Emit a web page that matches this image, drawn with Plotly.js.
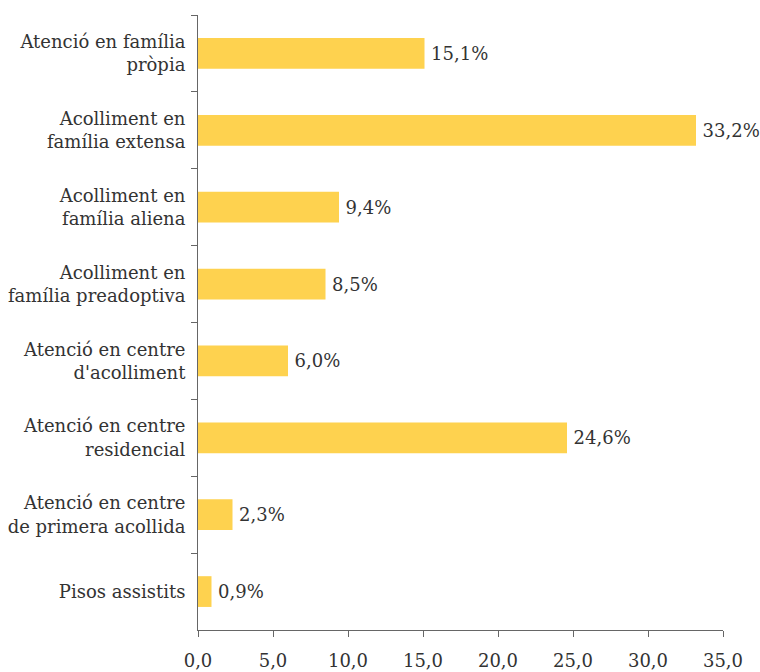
<!DOCTYPE html>
<html>
<head>
<meta charset="utf-8">
<script src="https://cdn.plot.ly/plotly-3.0.1.min.js"></script>
<style>body{margin:0;padding:0;background:#fff;}#chart{width:760px;height:672px;}</style>
</head>
<body>
<div id="chart"></div>
<script>
var categories = [
  "Atenció en família<br>pròpia",
  "Acolliment en<br>família extensa",
  "Acolliment en<br>família aliena",
  "Acolliment en<br>família preadoptiva",
  "Atenció en centre<br>d'acolliment",
  "Atenció en centre<br>residencial",
  "Atenció en centre<br>de primera acollida",
  "Pisos assistits"
];
var values = [15.1, 33.2, 9.4, 8.5, 6.0, 24.6, 2.3, 0.9];
var valueLabels = values.map(function(v){ return '\u2009' + v.toFixed(1).replace('.', ',') + '%'; });

var font = {family: "DejaVu Serif, serif", size: 18, color: '#333333'};

var trace = {
  type: 'bar',
  orientation: 'h',
  y: categories,
  x: values,
  marker: {color: '#FED24F'},
  text: valueLabels,
  textposition: 'outside',
  textfont: font,
  cliponaxis: false,
  hoverinfo: 'none'
};

var layout = {
  width: 760,
  height: 672,
  margin: {l: 198, r: 37, t: 15, b: 42},
  paper_bgcolor: '#ffffff',
  plot_bgcolor: '#ffffff',
  font: font,
  separators: ',.',
  bargap: 0.6,
  showlegend: false,
  xaxis: {
    range: [0, 35],
    dtick: 5,
    tick0: 0,
    tickformat: '.1f',
    showgrid: false,
    zeroline: false,
    showline: true,
    linecolor: '#666666',
    linewidth: 1,
    ticks: 'outside',
    ticklen: 6,
    tickcolor: '#666666',
    ticklabelstandoff: 8,
    tickfont: font
  },
  yaxis: {
    autorange: 'reversed',
    showgrid: false,
    zeroline: false,
    showline: true,
    linecolor: '#666666',
    linewidth: 1,
    ticks: 'outside',
    tickson: 'boundaries',
    ticklen: 6,
    tickcolor: '#666666',
    ticklabelstandoff: 8,
    tickfont: font
  }
};

Plotly.newPlot('chart', [trace], layout, {displayModeBar: false, staticPlot: true});
</script>
</body>
</html>
